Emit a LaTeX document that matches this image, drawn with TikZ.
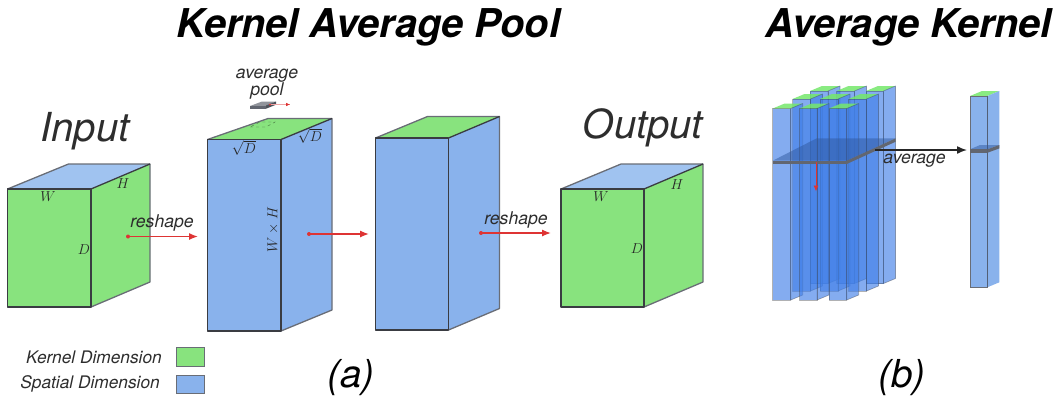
\documentclass[tikz,border=0pt]{standalone}
\usepackage{fontspec}
\setmainfont{TeX Gyre Heros}
\usetikzlibrary{arrows.meta,calc}
\definecolor{kgreen}{RGB}{136,227,126}
\definecolor{sblue}{RGB}{137,178,236}
\definecolor{sbluelight}{RGB}{160,195,240}
\definecolor{colblue}{RGB}{66,128,232}
\definecolor{edged}{RGB}{58,60,66}
\definecolor{edgel}{RGB}{105,109,118}
\definecolor{arrred}{RGB}{222,52,52}
\definecolor{lighttext}{RGB}{45,45,45}
\definecolor{slabgrey}{RGB}{98,102,112}
\definecolor{slabtop}{RGB}{45,85,155}
\tikzset{
  titletext/.style={font=\fontsize{39.7}{40}\selectfont\bfseries\itshape,text=black,inner sep=0pt,anchor=base},
  headtext/.style={font=\fontsize{40}{40}\selectfont\itshape,text=lighttext,inner sep=0pt},
  captext/.style={font=\fontsize{38.5}{39}\selectfont\itshape,text=black,inner sep=0pt},
  smalltext/.style={font=\fontsize{17.6}{19}\selectfont\itshape,text=lighttext,inner sep=0pt,align=center},
  legtext/.style={font=\fontsize{17.3}{18}\selectfont\itshape,text=lighttext,inner sep=0pt,anchor=east},
  mathlabel/.style={font=\fontsize{13.5}{14}\selectfont,text=black!85,inner sep=0pt},
  redarrow/.style={draw=arrred,line width=1.3pt,-{Latex[length=9pt,width=7pt]}},
  dotstart/.style={circle,fill=arrred,minimum size=4pt,inner sep=0pt},
  blackarrow/.style={draw=black!85,line width=1.5pt,-{Latex[length=10pt,width=8pt]}},
  legbox/.style={draw=edgel,line width=1pt,minimum width=28pt,minimum height=18.5pt,inner sep=0pt},
  colface/.style={fill=colblue,fill opacity=.65,draw=edged,draw opacity=.4,line width=.7pt,line join=round},
  coltop/.style={fill=kgreen!85!green,fill opacity=.85,draw=none},
  slabplane/.style={fill=slabtop,fill opacity=.48,draw=none},
}
% #1 left x, #2 right x, #3 top y, #4 bottom y, #5 dx, #6 dy, #7 back-left dx, #8 front colour, #9 top colour
\newcommand{\boxshape}[9]{%
  \fill[#9] (#1,#3) -- (#1+#7,#3-#6) -- (#2+#5,#3-#6) -- (#2,#3) -- cycle;
  \fill[#8] (#2,#3) -- (#2+#5,#3-#6) -- (#2+#5,#4-#6) -- (#2,#4) -- cycle;
  \fill[#8] (#1,#3) rectangle (#2,#4);
  \draw[edgel,line width=1.3pt,line join=round] (#1,#3) -- (#1+#7,#3-#6) -- (#2+#5,#3-#6) -- (#2+#5,#4-#6) -- (#2,#4);
  \draw[edged,line width=1.3pt,line join=round] (#2,#3) -- (#2+#5,#3-#6);
  \draw[edged,line width=1.3pt,line join=round] (#1,#3) rectangle (#2,#4);
}
% #1 left x, #2 top y, #3 bottom y, #4 width
\newcommand{\thincolumn}[4]{%
  \fill[coltop] (#1,#2) -- (#1+12,#2-5) -- (#1+#4+12,#2-5) -- (#1+#4,#2) -- cycle;
  \path[colface] (#1+#4,#2) -- (#1+#4+12,#2-5) -- (#1+#4+12,#3-5) -- (#1+#4,#3) -- cycle;
  \path[colface] (#1,#2) rectangle (#1+#4,#3);
}
\begin{document}
\begin{tikzpicture}[x=1pt,y=-1pt]
\useasboundingbox (0,0) rectangle (1057,400);
% titles
\node[titletext] (t1) at (368.5,37) {Kernel Average Pool};
\node[titletext] (t2) at (908.5,37) {Average Kernel};
\node[headtext] (inp) at (85,131) {Input};
\node[headtext] (outp) at (643,128) {Output};
% cubes
\boxshape{7.5}{91}{189}{307}{59}{25}{61}{kgreen}{sbluelight}
\boxshape{207.5}{281}{139.5}{331}{51}{21}{60.5}{sblue}{kgreen}
\boxshape{375.5}{448.5}{138}{330}{51}{21.5}{52}{sblue}{kgreen}
\boxshape{561}{644}{189}{307}{59}{25}{60}{kgreen}{sbluelight}
% math labels
\node[mathlabel] (w1) at (48,197) {$W$};
\node[mathlabel] (h1) at (123,184) {$H$};
\node[mathlabel] (d1) at (84,250) {$D$};
\node[mathlabel] (s1) at (244,148) {$\sqrt{D}$};
\node[mathlabel] (s2) at (310,136) {$\sqrt{D}$};
\node[mathlabel,rotate=90] (wh) at (273,230) {$W\times H$};
\node[mathlabel] (w2) at (601,197) {$W$};
\node[mathlabel] (h2) at (677,185) {$H$};
\node[mathlabel] (d2) at (637,249) {$D$};
% average pool icon
\node[smalltext] (ap) at (267,84) {average\\[-2pt]pool};
\fill[slabgrey!70!white] (250,106) -- (262,101.5) -- (276,101.5) -- (266,106) -- cycle;
\fill[slabgrey] (250,105.5) rectangle (266,108.7);
\fill[slabgrey!80!black] (266,105.5) -- (276,101.5) -- (276,104.7) -- (266,108.7) -- cycle;
\coordinate (ps) at (270,104.5);
\coordinate (pe) at (290,104.5);
\draw[arrred!45!white,line width=.8pt] (ps) -- (pe);
\draw[arrred,-{Latex[length=4pt,width=3.5pt]},line width=.5pt] ($(pe)+(-4,0)$) -- (pe);
\node[dotstart,minimum size=2pt] at (ps) {};
\draw[black!50!kgreen,dashed,line width=.4pt] (250,127) -- (266,127) -- (275,122) -- (260,122) -- cycle;
% red arrows
\coordinate (r1s) at (128,236.5); \coordinate (r1e) at (198,236.5);
\coordinate (r2s) at (309,234); \coordinate (r2e) at (369,234);
\coordinate (r3s) at (481,233); \coordinate (r3e) at (551,233);
\foreach \a/\b in {r1s/r1e,r2s/r2e,r3s/r3e}{
  \draw[redarrow] (\a) -- (\b);
  \node[dotstart] at (\a) {};
}
\node[smalltext] (rs1) at (162,223) {reshape};
\node[smalltext] (rs2) at (516,220) {reshape};
% columns: back row, middle row, front row
\thincolumn{810}{91}{283.5}{18}
\thincolumn{836.5}{91}{283.5}{18}
\thincolumn{866}{91}{283.5}{17.5}
\thincolumn{792.5}{99}{291}{18}
\thincolumn{820}{99}{291}{18}
\thincolumn{848.5}{99}{291}{18}
\thincolumn{772.7}{108.5}{300}{18}
\thincolumn{799.5}{108.5}{300}{17.5}
\thincolumn{829}{108.5}{300}{17.7}
% slab
\path[slabplane] (772.7,160.7) -- (816.7,138.3) -- (895.7,138.3) -- (846.7,160.7) -- cycle;
\fill[slabgrey] (772.7,160.7) rectangle (846.7,164);
\fill[slabgrey] (846.7,160.7) -- (895.7,138.3) -- (895.7,141.7) -- (846.7,164) -- cycle;
\coordinate (dn1) at (816,162); \coordinate (dn2) at (816,191.5);
\draw[draw=arrred,line width=.9pt,-{Latex[length=6pt,width=5pt]}] (dn1) -- (dn2);
% single column
\fill[coltop] (970,96) -- (982,91) -- (999.3,91) -- (987.3,96) -- cycle;
\fill[sblue] (987.3,96) -- (999.3,91) -- (999.3,282.3) -- (987.3,287.3) -- cycle;
\fill[sblue] (970,96) rectangle (987.3,287.3);
\draw[edgel,line width=.5pt] (970,96) rectangle (987.3,287.3);
\draw[edged!70!sblue,line width=.8pt] (987.3,96) -- (987.3,287.3);
\path[slabplane] (970,149.3) -- (980,145) -- (999.3,145) -- (987.3,149.3) -- cycle;
\fill[slabgrey] (970,149.3) rectangle (987.3,152.8);
\fill[slabgrey] (987.3,149.3) -- (999.3,145) -- (999.3,148.4) -- (987.3,152.8) -- cycle;
% black arrow
\coordinate (ba) at (875,150); \coordinate (bb) at (967,150);
\draw[blackarrow] (ba) -- (bb);
\node[smalltext] (av) at (914.5,161) {average};
% legend
\node[legtext] (k) at (162,357) {Kernel Dimension};
\node[legtext] (s) at (160,384) {Spatial Dimension};
\node[legbox,fill=kgreen] (kb) at (190,357) {};
\node[legbox,fill=sblue] (sb) at (190,384.5) {};
% captions
\node[captext] (a) at (351,378) {(a)};
\node[captext] (b) at (902,378) {(b)};
\end{tikzpicture}
\end{document}
